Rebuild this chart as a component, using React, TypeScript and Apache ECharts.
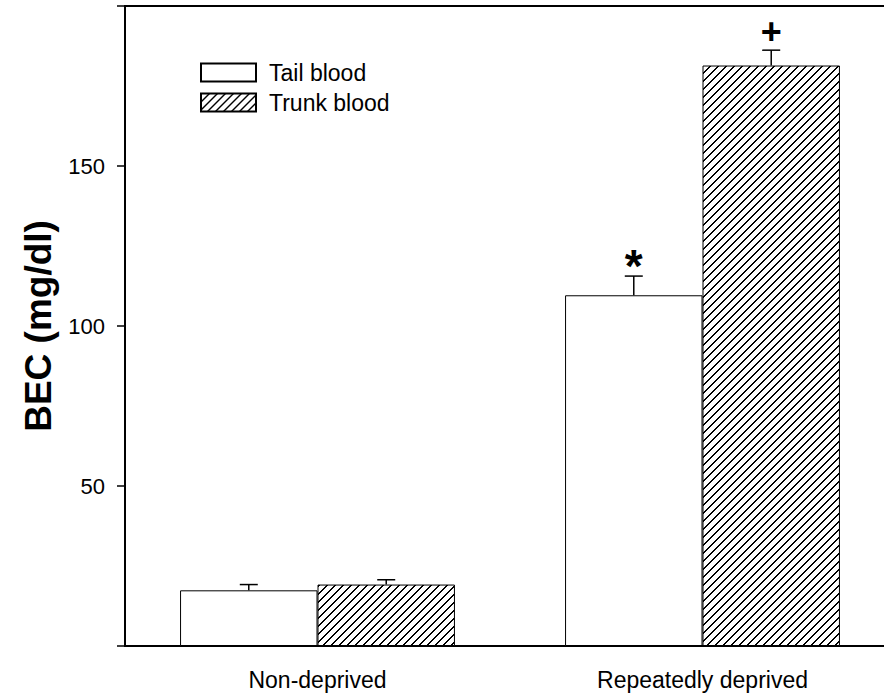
import React, { useEffect, useRef } from "react";
import * as echarts from "echarts";

// Groups along the x axis
const categories = ["Non-deprived", "Repeatedly deprived"];

// Blood ethanol concentration (mg/dl), mean and SEM
const tailBlood = [17.4, 109.6];
const tailBloodErr = [1.8, 6.0];
const trunkBlood = [19.2, 181.4];
const trunkBloodErr = [1.5, 4.8];

// Significance marks drawn above the error bars
const tailMarks = ["", "*"];
const trunkMarks = ["", "+"];

// Y ticks
const yTicks = [50, 100, 150];

const FONT = "'Liberation Sans', Arial, Helvetica, sans-serif";
const BAR_FRACTION = 0.357;

// Diagonal hatch tile (lines rising left to right)
function makeHatch(): HTMLCanvasElement {
  const s = 8;
  const c = document.createElement("canvas");
  c.width = s;
  c.height = s;
  const ctx = c.getContext("2d")!;
  ctx.fillStyle = "#fff";
  ctx.fillRect(0, 0, s, s);
  ctx.fillStyle = "#000";
  // pixel-aligned diagonal, two pixels per step for a crisp dark line
  for (let i = 0; i < s; i++) {
    ctx.fillRect(i, s - 1 - i, 1, 1);
    ctx.fillRect((i + 1) % s, s - 1 - i, 1, 1);
  }
  return c;
}

export default function App() {
  const ref = useRef<HTMLDivElement>(null);

  useEffect(() => {
    if (!ref.current) return;
    const chart = echarts.init(ref.current, undefined, { renderer: "svg" });
    const hatch = { image: makeHatch(), repeat: "repeat" };

    // error-bar items: [category, mean, err, side(-1 tail, +1 trunk)]
    const errData: number[][] = [];
    const errMarks: string[] = [];
    categories.forEach((_, i) => {
      errData.push([i, tailBlood[i], tailBloodErr[i], -1]);
      errMarks.push(tailMarks[i]);
      errData.push([i, trunkBlood[i], trunkBloodErr[i], 1]);
      errMarks.push(trunkMarks[i]);
    });

    chart.setOption({
      animation: false,
      backgroundColor: "#fff",
      grid: {
        left: 125,
        top: 6,
        width: 770,
        height: 640,
        outerBoundsMode: "none",
        containLabel: false,
        show: true,
        borderColor: "#000",
        borderWidth: 2,
      },
      legend: {
        orient: "vertical",
        left: 200,
        top: 61,
        padding: 0,
        itemWidth: 55,
        itemHeight: 18,
        itemGap: 7,
        icon: "rect",
        data: ["Tail blood", "Trunk blood"],
        textStyle: {
          fontFamily: FONT,
          fontSize: 23,
          color: "#000",
          padding: [0, 0, 0, 8],
        },
      },
      xAxis: {
        type: "category",
        data: categories,
        axisLine: { lineStyle: { color: "#000", width: 2 } },
        axisTick: { alignWithLabel: true, length: 10, lineStyle: { color: "#000", width: 1.5 } },
        axisLabel: { margin: 22, fontFamily: FONT, fontSize: 23, color: "#000" },
        splitLine: { show: false },
      },
      yAxis: {
        type: "value",
        min: 0,
        max: 200,
        interval: 50,
        name: "BEC (mg/dl)",
        nameLocation: "middle",
        nameGap: 64,
        nameTextStyle: { fontFamily: FONT, fontSize: 37, fontWeight: "bold", color: "#000" },
        axisLine: { show: true, lineStyle: { color: "#000", width: 2 } },
        axisTick: { show: true, length: 8, lineStyle: { color: "#000", width: 1.5 } },
        axisLabel: {
          margin: 20,
          fontFamily: FONT,
          fontSize: 22,
          color: "#000",
          formatter: (v: number) => (yTicks.includes(v) ? String(v) : ""),
        },
        splitLine: { show: false },
      },
      series: [
        {
          name: "Tail blood",
          type: "bar",
          data: tailBlood,
          barWidth: BAR_FRACTION * 100 + "%",
          barGap: "0%",
          itemStyle: { color: "#fff", borderColor: "#000", borderWidth: 1 },
        },
        {
          name: "Trunk blood",
          type: "bar",
          data: trunkBlood,
          barWidth: BAR_FRACTION * 100 + "%",
          barGap: "0%",
          itemStyle: { color: hatch, borderColor: "#000", borderWidth: 1 },
        },
        {
          type: "custom",
          data: errData,
          encode: { x: 0, y: 1 },
          z: 5,
          renderItem: (params: any, api: any) => {
            const cat = api.value(0);
            const v = api.value(1);
            const e = api.value(2);
            const side = api.value(3);
            const band = api.size([1, 0])[0];
            const bw = band * BAR_FRACTION;
            const base = api.coord([cat, v]);
            const top = api.coord([cat, v + e]);
            const x = base[0] + (side * bw) / 2;
            const yb = base[1];
            const yt = top[1];
            const mark = errMarks[params.dataIndex];
            const children: any[] = [
              {
                type: "line",
                shape: { x1: x, y1: yb, x2: x, y2: yt },
                style: { stroke: "#000", lineWidth: 1.5 },
              },
              {
                type: "line",
                shape: { x1: x - 9, y1: yt, x2: x + 9, y2: yt },
                style: { stroke: "#000", lineWidth: 1.5 },
              },
            ];
            if (mark) {
              const isStar = mark === "*";
              children.push({
                type: "text",
                x,
                y: yt - (isStar ? 10 : 19),
                style: {
                  text: mark,
                  fontFamily: FONT,
                  fontWeight: "bold",
                  fontSize: isStar ? 46 : 36,
                  fill: "#000",
                  align: "center",
                  verticalAlign: "middle",
                },
              });
            }
            return { type: "group", children };
          },
        },
      ],
    });

    return () => chart.dispose();
  }, []);

  return (
    <div
      ref={ref}
      style={{ position: "fixed", left: 0, top: 0, width: 884, height: 698 }}
    />
  );
}
